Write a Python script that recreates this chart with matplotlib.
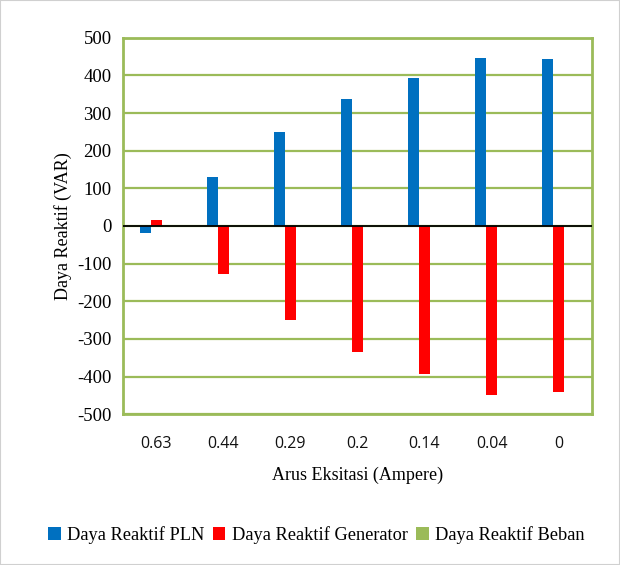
import numpy as np
import matplotlib.pyplot as plt
from matplotlib.patches import Rectangle

# data
arus = ['0.63', '0.44', '0.29', '0.2', '0.14', '0.04', '0']
pln = [-18, 130, 250, 337, 392, 447, 443]
generator = [17, -128, -250, -335, -393, -449, -441]
beban = [0, 0, 0, 0, 0, 0, 0]

blue = '#0070C0'
red = '#FF0000'
green = '#9BBB59'

plt.rcParams['axes.unicode_minus'] = False

fig = plt.figure(figsize=(6.2, 5.65), dpi=100)
ax = fig.add_axes([0.198, 0.267, 0.757, 0.666])

x = np.arange(len(arus))
w = 0.165
ax.bar(x - w, pln, w, color=blue, label='Daya Reaktif PLN', zorder=3)
ax.bar(x, generator, w, color=red, label='Daya Reaktif Generator', zorder=3)
ax.bar(x + w, beban, w, color=green, label='Daya Reaktif Beban', zorder=3)

ax.set_xlim(-0.5, len(arus) - 0.5)
ax.set_ylim(-500, 500)
ax.set_yticks(np.arange(-500, 501, 100))
ax.yaxis.grid(True, color=green, linewidth=1.6, zorder=0)
ax.axhline(0, color='black', linewidth=1.3, zorder=4)
for s in ax.spines.values():
    s.set_color(green)
    s.set_linewidth(2)
ax.tick_params(length=0)
ax.tick_params(axis='y', pad=8)
ax.tick_params(axis='x', pad=16)

ax.set_xticks(x)
ax.set_xticklabels(arus, fontfamily='Open Sans', fontsize=11.5, color='#111111')
for t in ax.get_yticklabels():
    t.set_fontfamily('Liberation Serif')
    t.set_fontsize(13.5)

ax.set_ylabel('Daya Reaktif (VAR)', fontfamily='Liberation Serif', fontsize=13, labelpad=4)
ax.set_xlabel('Arus Eksitasi (Ampere)', fontfamily='Liberation Serif', fontsize=13, labelpad=10)

fig.legend(loc='center', bbox_to_anchor=(0.51, 0.053), ncol=3, frameon=False,
           prop={'family': 'Liberation Serif', 'size': 13.2},
           handlelength=0.7, handleheight=0.7, handletextpad=0.35, columnspacing=0.45)

fig.patches.append(Rectangle((0, 0), 1, 1, transform=fig.transFigure, fill=False,
                             edgecolor='#d0d0d0', linewidth=1.5))

fig.savefig('out.png', dpi=100)
